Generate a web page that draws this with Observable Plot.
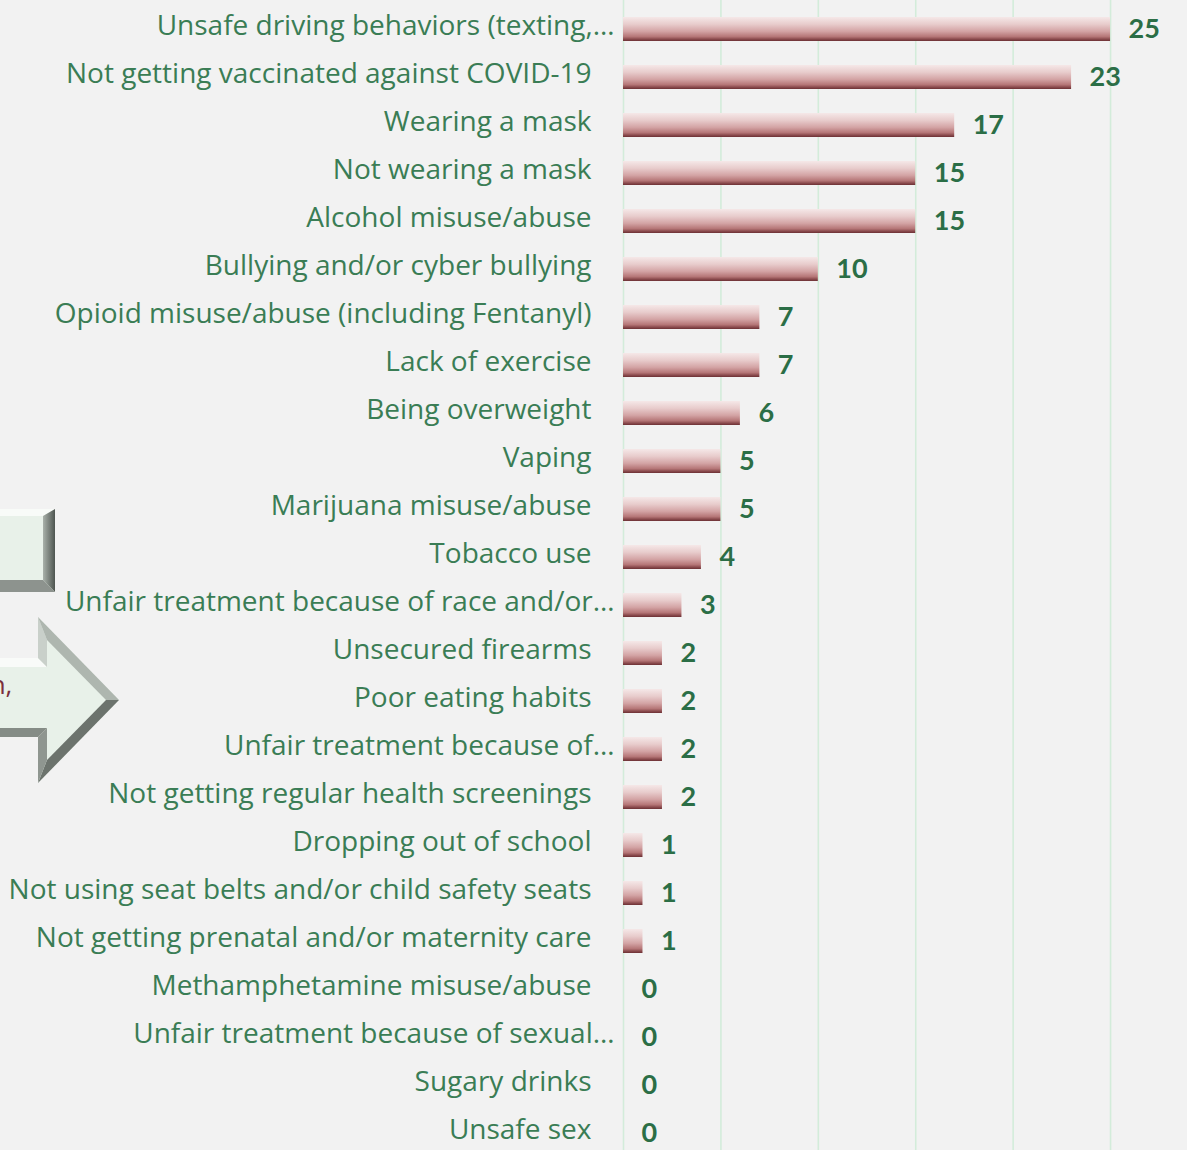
<!DOCTYPE html>
<html><head><meta charset="utf-8">
<script src="https://cdn.jsdelivr.net/npm/d3@7"></script>
<script src="https://cdn.jsdelivr.net/npm/@observablehq/plot@0.6"></script>
<style>
html,body{margin:0;padding:0;background:#f2f2f2;}
#chart{width:1187px;height:1150px;overflow:hidden;}
</style></head><body><div id="chart"></div>
<script>
const categories = [
  "Unsafe driving behaviors (texting,…",
  "Not getting vaccinated against COVID-19",
  "Wearing a mask",
  "Not wearing a mask",
  "Alcohol misuse/abuse",
  "Bullying and/or cyber bullying",
  "Opioid misuse/abuse (including Fentanyl)",
  "Lack of exercise",
  "Being overweight",
  "Vaping",
  "Marijuana misuse/abuse",
  "Tobacco use",
  "Unfair treatment because of race and/or…",
  "Unsecured firearms",
  "Poor eating habits",
  "Unfair treatment because of…",
  "Not getting regular health screenings",
  "Dropping out of school",
  "Not using seat belts and/or child safety seats",
  "Not getting prenatal and/or maternity care",
  "Methamphetamine misuse/abuse",
  "Unfair treatment because of sexual…",
  "Sugary drinks",
  "Unsafe sex"
];
const values = [25, 23, 17, 15, 15, 10, 7, 7, 6, 5, 5, 4, 3, 2, 2, 2, 2, 1, 1, 1, 0, 0, 0, 0];
const gridTicks = [0, 5, 10, 15, 20, 25];

const data = categories.map((c, i) => ({category: c, value: values[i]}));
const truncated = d => d.category.endsWith("…");

const chart = Plot.plot({
  width: 1187, height: 1150,
  marginTop: 0, marginBottom: 0, marginLeft: 623, marginRight: 0,
  style: {background: "#f2f2f2", fontFamily: "'Open Sans', 'Noto Sans', sans-serif", overflow: "visible"},
  x: {domain: [0, 28.95], axis: null},
  y: {domain: categories, range: [1.1, 1161.5], paddingInner: 0.5, paddingOuter: 0.25, axis: null},
  marks: [
    Plot.ruleX(gridTicks, {stroke: "#d3ecda", strokeWidth: 1.6}),
    Plot.barX(data, {x: "value", y: "category", fill: "url(#barGrad)"}),
    Plot.text(data, {filter: d => !truncated(d), x: 0, y: "category", text: "category", textAnchor: "end", dx: -32, dy: -3, fill: "#3a7d55", fontSize: 28}),
    Plot.text(data, {filter: truncated, x: 0, y: "category", text: "category", textAnchor: "end", dx: -9, dy: -3, fill: "#3a7d55", fontSize: 28}),
    Plot.text(data, {x: "value", y: "category", text: d => String(d.value), textAnchor: "start", dx: 18, dy: 0, fill: "#2b6e46", fontSize: 27, fontWeight: "bold", fontFamily: "Lato, sans-serif"})
  ]
});

const svg = d3.select(chart);
const defs = svg.insert("defs", ":first-child");
const g = defs.append("linearGradient").attr("id", "barGrad").attr("x1", 0).attr("y1", 0).attr("x2", 0).attr("y2", 1);
[[0, "#f5e8e8"], [0.3, "#e8cccc"], [0.6, "#d3a3a4"], [0.82, "#b57677"], [0.92, "#8c4c4f"], [1, "#6c3034"]]
  .forEach(([o, c]) => g.append("stop").attr("offset", o).attr("stop-color", c));
const sg = defs.append("linearGradient").attr("id", "sideGrad").attr("x1", 0).attr("y1", 0).attr("x2", 1).attr("y2", 0);
sg.append("stop").attr("offset", 0).attr("stop-color", "#a9b1aa");
sg.append("stop").attr("offset", 1).attr("stop-color", "#4e5550");

// decorative shapes cropped at the left edge of the slide
const deco = svg.insert("g", "g");
const poly = (pts, fill) => deco.append("polygon").attr("points", pts.map(p => p.join(",")).join(" ")).attr("fill", fill);
// bevelled box
poly([[-10,509],[55,509],[55,592],[-10,592]], "#e8f1e9");
poly([[-10,509],[55,509],[43,516],[-10,516]], "#f8fbf8");
poly([[55,509],[55,592],[43,580],[43,516]], "url(#sideGrad)");
poly([[-10,592],[55,592],[43,580],[-10,580]], "#8d938e");
// bevelled arrow
poly([[-10,658],[38,658],[38,617],[119,700],[38,783],[38,737],[-10,737]], "#e8f1e9");
poly([[-10,658],[38,658],[47,667],[-10,667]], "#f9fbf9");
poly([[38,658],[38,617],[47,640],[47,667]], "#c9d0ca");
poly([[38,617],[119,700],[106,700],[47,640]], "#aeb6af");
poly([[119,700],[38,783],[47,760],[106,700]], "#6c736d");
poly([[38,783],[38,737],[47,728],[47,760]], "#8f9690");
poly([[38,737],[-10,737],[-10,728],[47,728]], "#858c86");
deco.append("text").attr("x", 1).attr("y", 694).attr("fill", "#7b2f3c")
  .attr("font-size", 26).attr("font-family", "'Open Sans', sans-serif").text("n,");

document.getElementById("chart").appendChild(chart);
</script></body></html>
